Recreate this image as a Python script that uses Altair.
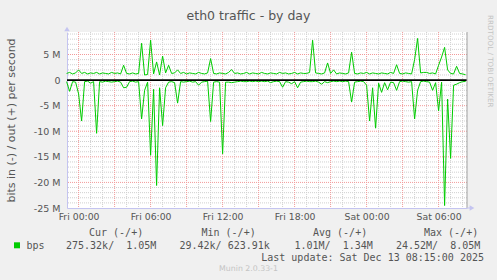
import altair as alt
import pandas as pd

# ---- data (Mbit/s), one sample every 15 minutes, Thu 23:00 -> Sat 08:15 ----
out_mbps = [
    1.3, 1.5, 1.2, 1.4, 2.0, 1.3, 1.5, 1.2, 1.4, 1.3,
    1.5, 1.2, 1.4, 1.3, 1.2, 1.5, 1.3, 1.4, 1.2, 2.9,
    1.3, 1.2, 1.4, 1.2, 1.3, 7.2, 1.0, 1.1, 7.8, 1.2,
    3.55, 1.0, 4.7, 1.4, 2.9, 1.3, 1.4, 2.0, 1.3, 1.5,
    1.2, 1.4, 1.3, 1.2, 1.5, 1.3, 1.2, 1.4, 4.2, 1.3,
    1.2, 1.4, 1.3, 1.2, 1.5, 2.05, 1.3, 1.4, 1.2, 1.3,
    1.5, 1.2, 1.4, 1.3, 1.2, 1.5, 1.3, 1.2, 1.4, 1.3,
    1.2, 1.5, 1.3, 1.4, 1.2, 1.3, 1.5, 1.2, 1.4, 1.3,
    1.3, 1.5, 7.8, 1.4, 1.3, 1.2, 1.4, 3.35, 1.3, 2.0,
    1.2, 1.4, 1.3, 1.2, 1.4, 5.46, 1.3, 1.2, 1.4, 1.3,
    1.5, 1.2, 1.4, 1.3, 1.2, 1.4, 1.3, 1.2, 1.5, 1.3,
    3.0, 1.3, 1.2, 1.4, 1.3, 1.2, 4.0, 8.15, 1.4, 1.5,
    1.5, 1.3, 1.4, 1.2, 2.9, 4.5, 6.4, 2.0, 1.3, 1.2,
    2.7, 1.3, 1.2, 1.05,
]
in_mbps = [
    0.3, 2.2, 0.3, 0.4, 2.7, 8.0, 0.3, 0.2, 0.6, 0.3,
    10.4, 0.3, 0.4, 0.2, 0.3, 0.4, 0.3, 0.2, 0.4, 1.5,
    1.4, 0.3, 0.2, 0.4, 0.3, 7.6, 2.0, 0.4, 14.7, 1.8,
    20.6, 1.5, 8.9, 1.5, 0.4, 0.3, 0.5, 4.5, 0.3, 0.4,
    0.3, 0.2, 0.4, 0.3, 1.0, 0.4, 0.3, 0.2, 8.1, 0.4,
    0.3, 0.4, 14.4, 0.4, 0.4, 0.5, 0.4, 0.3, 0.2, 0.3,
    0.3, 0.2, 0.3, 0.2, 0.3, 0.2, 0.3, 0.2, 0.5, 0.3,
    0.2, 0.3, 1.4, 0.3, 0.4, 0.7, 0.3, 1.5, 0.4, 0.3,
    0.2, 0.3, 0.3, 0.2, 0.4, 0.8, 0.3, 0.5, 0.3, 0.2,
    0.3, 0.2, 0.3, 0.2, 0.3, 4.3, 0.4, 0.3, 0.2, 0.3,
    1.0, 8.0, 1.5, 9.4, 0.6, 2.4, 0.5, 1.9, 0.4, 0.5,
    2.0, 0.3, 0.2, 0.3, 0.4, 0.3, 7.6, 2.0, 0.3, 0.2,
    0.3, 0.4, 2.0, 0.5, 6.0, 0.4, 24.52, 3.7, 15.3, 1.0,
    0.8, 0.5, 0.3, 0.275,
]
x_tick_labels = ["Fri 00:00", "Fri 06:00", "Fri 12:00", "Fri 18:00", "Sat 00:00", "Sat 06:00"]
y_ticks_m = [-25, -20, -15, -10, -5, 0, 5]
legend_headers = ["Cur (-/+)", "Min (-/+)", "Avg (-/+)", "Max (-/+)"]
legend_values = ["275.32k/  1.05M", "29.42k/ 623.91k", "1.01M/  1.34M", "24.52M/  8.05M"]

GREEN = "#00CC00"
TXT = "#555555"
LAV = "#C4C4F0"
PL, PT = 67, 32
W, H = 400, 176
NB = "\u00a0"

times = pd.date_range("2025-12-11 23:00", periods=len(out_mbps), freq="15min")
tstr = times.strftime("%Y-%m-%dT%H:%M:%S")
df = pd.DataFrame({
    "t": list(tstr) * 2,
    "v": [v * 1e6 for v in out_mbps] + [-v * 1e6 for v in in_mbps],
    "s": ["out"] * len(out_mbps) + ["in"] * len(in_mbps),
})

major_x = pd.date_range("2025-12-12 00:00", "2025-12-13 06:00", freq="3h")
all_x = pd.date_range("2025-12-12 00:00", "2025-12-13 08:00", freq="1h")
minor_x = [t for t in all_x if t not in set(major_x)]
gx_major = pd.DataFrame({"t": [t.strftime("%Y-%m-%dT%H:%M:%S") for t in major_x]})
gx_minor = pd.DataFrame({"t": [t.strftime("%Y-%m-%dT%H:%M:%S") for t in minor_x]})
gy_major = pd.DataFrame({"y": [v * 1e6 for v in [-20, -15, -10, -5, 5]]})
gy_minor = pd.DataFrame({"y": [v * 1e6 for v in range(-24, 10) if v % 5 != 0]})
zero = pd.DataFrame({"y": [0]})

def dt(day, h, m=0):
    return alt.DateTime(year=2025, month=12, date=day, hours=h, minutes=m)

xscale = alt.Scale(domain=[dt(11, 23, 2), dt(13, 8, 22)])
yscale = alt.Scale(domain=[-25e6, 9.4e6], nice=False, zero=False)
tick_dts = [dt(12, 0), dt(12, 6), dt(12, 12), dt(12, 18), dt(13, 0), dt(13, 6)]

minor_v = alt.Chart(gx_minor).mark_rule(color="#D0D0D0", strokeDash=[1, 1], strokeWidth=1).encode(
    x=alt.X("t:T", scale=xscale, axis=None))
major_v = alt.Chart(gx_major).mark_rule(color="#F29A9A", strokeDash=[1, 1], strokeWidth=1).encode(
    x=alt.X("t:T", scale=xscale, axis=None))
minor_h = alt.Chart(gy_minor).mark_rule(color="#D0D0D0", strokeDash=[1, 1], strokeWidth=1).encode(
    y=alt.Y("y:Q", scale=yscale, axis=None))
major_h = alt.Chart(gy_major).mark_rule(color="#F29A9A", strokeDash=[1, 1], strokeWidth=1).encode(
    y=alt.Y("y:Q", scale=yscale, axis=None))

lines = alt.Chart(df).mark_line(color=GREEN, strokeWidth=1, interpolate="linear").encode(
    x=alt.X("t:T", scale=xscale, title=None,
            axis=alt.Axis(values=tick_dts, format="%a %H:%M", labelFont="DejaVu Sans",
                          labelFontSize=9.3, labelColor=TXT, ticks=False, labelPadding=4,
                          grid=False, domainColor=LAV, domainWidth=1, labelOverlap=False,
                          orient="bottom")),
    y=alt.Y("v:Q", scale=yscale,
            axis=alt.Axis(values=[v * 1e6 for v in y_ticks_m],
                          labelExpr="datum.value == 0 ? '0' : (datum.value / 1000000) + ' M'",
                          labelFont="DejaVu Sans", labelFontSize=9.5, labelColor=TXT,
                          ticks=False, labelPadding=7, grid=False, domainColor=LAV, domainWidth=1,
                          title="bits in (-) / out (+) per second", titleFont="DejaVu Sans",
                          titleFontSize=11, titleFontWeight="normal", titleColor=TXT,
                          titleX=-51, titleBaseline="bottom", titleAngle=-90, orient="left")),
    detail="s:N",
)

zero_line = alt.Chart(zero).mark_rule(color="#000000", strokeWidth=1.6).encode(
    y=alt.Y("y:Q", scale=yscale, axis=None))

one = alt.Data(values=[{"a": 1}])

def txt(text, px, py, size, font="DejaVu Sans", color=TXT, align="left", angle=0, baseline="alphabetic"):
    return alt.Chart(one).mark_text(text=text.replace(" ", NB), font=font, fontSize=size, color=color,
                                    align=align, baseline=baseline, angle=angle).encode(
        x=alt.value(px - PL), y=alt.value(py - PT))

right_frame = alt.Chart(one).mark_rule(color="#A0A0A0", strokeWidth=1).encode(
    x=alt.value(W), y=alt.value(0), y2=alt.value(H))
x_ext = alt.Chart(one).mark_rule(color=LAV, strokeWidth=1).encode(
    x=alt.value(W), x2=alt.value(W + 5), y=alt.value(H))
arrow_up = alt.Chart(one).mark_point(shape="triangle-up", filled=True, color=LAV, size=30, opacity=1).encode(
    x=alt.value(0), y=alt.value(-3))
arrow_right = alt.Chart(one).mark_point(shape="triangle-right", filled=True, color=LAV, size=30, opacity=1).encode(
    x=alt.value(W + 5), y=alt.value(H))
swatch = alt.Chart(one).mark_square(color=GREEN, size=36, opacity=1).encode(
    x=alt.value(17 - PL), y=alt.value(245.3 - PT))

MONO = "DejaVu Sans Mono"
texts = [
    txt("eth0 traffic - by day", 248.5, 19.5, 12.5, align="center"),
    txt("RRDTOOL / TOBI OETIKER", 490, 15, 7.2, color="#C4C4C4", angle=90, baseline="middle"),
    txt(legend_headers[0], 89, 236, 10, font=MONO),
    txt(legend_headers[1], 201.5, 236, 10, font=MONO),
    txt(legend_headers[2], 313, 236, 10, font=MONO),
    txt(legend_headers[3], 424, 236, 10, font=MONO),
    txt("bps", 26.5, 249.3, 10, font=MONO),
    txt(legend_values[0], 66, 249.3, 10, font=MONO),
    txt(legend_values[1], 179.5, 249.3, 10, font=MONO),
    txt(legend_values[2], 294.5, 249.3, 10, font=MONO),
    txt(legend_values[3], 396, 249.3, 10, font=MONO),
    txt("Last update: Sat Dec 13 08:15:00 2025", 484, 261, 10, font=MONO, align="right"),
    txt("Munin 2.0.33-1", 248.5, 271, 7.8, color="#C4C4C4", align="center"),
]

chart = alt.layer(
    minor_v, minor_h, major_v, major_h, lines, zero_line, right_frame, x_ext,
    arrow_up, arrow_right, swatch, *texts
).resolve_axis(x="independent", y="independent").properties(
    width=W, height=H,
    autosize=alt.AutoSizeParams(type="none"),
    padding={"left": PL, "top": PT, "right": 497 - PL - W, "bottom": 280 - PT - H},
    background="#F0F0F0",
).configure_view(fill="#FFFFFF", stroke=None)

chart.save("out.html", embed_options={"renderer": "svg", "actions": False})
